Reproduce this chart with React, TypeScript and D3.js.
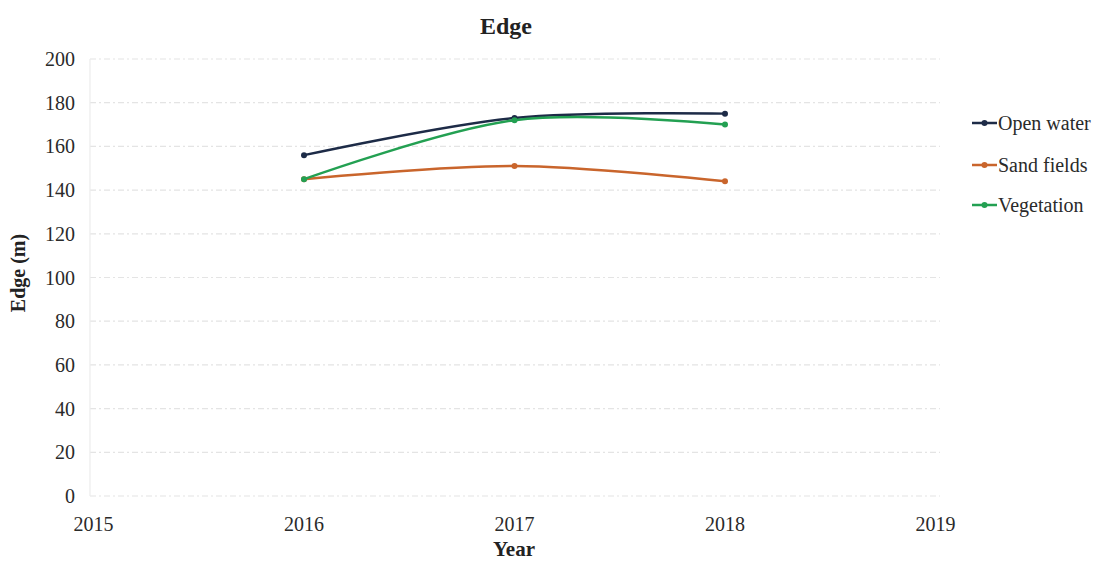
import React from "react";
import * as d3 from "d3";

const years = [2016, 2017, 2018];
const openWater = [156, 173, 175];
const sandFields = [145, 151, 144];
const vegetation = [145, 172, 170];
const yTicks = [0, 20, 40, 60, 80, 100, 120, 140, 160, 180, 200];
const xTicks = [2015, 2016, 2017, 2018, 2019];
const seriesNames = ["Open water", "Sand fields", "Vegetation"];
const seriesColors = ["#1d2b47", "#c9652c", "#23a052"];

const W = 1106;
const H = 564;
const FONT = "'Liberation Serif', 'Times New Roman', serif";

export default function App() {
  const x = d3.scaleLinear().domain([2015, 2019]).range([93.5, 935.5]);
  const y = d3.scaleLinear().domain([0, 200]).range([496, 59]);
  const seriesValues = [openWater, sandFields, vegetation];
  const line = d3
    .line<number>()
    .x((_, i) => x(years[i]))
    .y((d) => y(d))
    .curve(d3.curveCardinal.tension(0));
  const gridLeft = 90;
  const gridRight = 940;
  const legendX = 972;
  const legendY = [123, 165, 205];

  return (
    <svg
      width={W}
      height={H}
      style={{ position: "absolute", left: 0, top: 0, background: "#fff" }}
      fontFamily={FONT}
    >
      <rect x={0} y={0} width={W} height={H} fill="#fff" />
      {yTicks.map((t) => (
        <line
          key={"g" + t}
          x1={gridLeft}
          x2={gridRight}
          y1={y(t)}
          y2={y(t)}
          stroke="#e4e4e4"
          strokeWidth={1.2}
          strokeDasharray="6 3 2 3"
        />
      ))}
      <line x1={gridLeft} x2={gridLeft} y1={y(200)} y2={y(0)} stroke="#ececec" strokeWidth={1.2} />
      {yTicks.map((t) => (
        <text
          key={"yt" + t}
          x={75}
          y={y(t)}
          textAnchor="end"
          dominantBaseline="central"
          fontSize={20}
          fill="#2a2a2a"
        >
          {t}
        </text>
      ))}
      {xTicks.map((t) => (
        <text key={"xt" + t} x={x(t)} y={531} textAnchor="middle" fontSize={20} fill="#2a2a2a">
          {t}
        </text>
      ))}
      {seriesValues.map((vals, si) => (
        <g key={"s" + si}>
          <path d={line(vals) || ""} fill="none" stroke={seriesColors[si]} strokeWidth={2.5} />
          {vals.map((v, i) => (
            <circle key={i} cx={x(years[i])} cy={y(v)} r={3} fill={seriesColors[si]} />
          ))}
        </g>
      ))}
      <text x={506} y={34} textAnchor="middle" fontSize={24} fontWeight="bold" fill="#222">
        Edge
      </text>
      <text
        transform={`translate(25, 273) rotate(-90)`}
        textAnchor="middle"
        fontSize={20}
        fontWeight="bold"
        fill="#222"
      >
        Edge (m)
      </text>
      <text x={514} y={556} textAnchor="middle" fontSize={21} fontWeight="bold" fill="#222">
        Year
      </text>
      {seriesNames.map((n, i) => (
        <g key={"l" + i}>
          <line
            x1={legendX}
            x2={legendX + 25}
            y1={legendY[i]}
            y2={legendY[i]}
            stroke={seriesColors[i]}
            strokeWidth={2.5}
          />
          <circle cx={legendX + 12.5} cy={legendY[i]} r={3} fill={seriesColors[i]} />
          <text
            x={legendX + 26}
            y={legendY[i]}
            dominantBaseline="central"
            fontSize={20}
            fill="#2a2a2a"
          >
            {n}
          </text>
        </g>
      ))}
    </svg>
  );
}
